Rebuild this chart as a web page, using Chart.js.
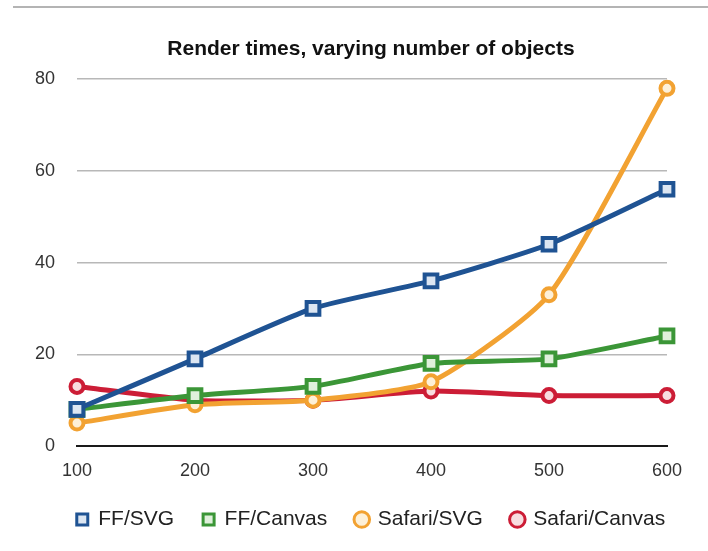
<!DOCTYPE html>
<html>
<head>
<meta charset="utf-8">
<script src="https://cdn.jsdelivr.net/npm/chart.js@4"></script>
<style>
  body { margin: 0; background: #fff; }
  #wrap { position: relative; width: 708px; height: 551px; }
  #rule { position: absolute; left: 13px; right: 0; top: 6px; height: 2px; background: #b4b4b4; }
</style>
</head>
<body>
<div id="wrap">
  <div id="rule"></div>
  <canvas id="myChart" width="708" height="551"></canvas>
</div>
<script>
var objectCounts = ['100', '200', '300', '400', '500', '600'];
var yTicks = [0, 20, 40, 60, 80];

var ffSvg = [8, 19, 30, 36, 44, 56];
var ffCanvas = [8, 11, 13, 18, 19, 24];
var safariSvg = [5, 9, 10, 14, 33, 78];
var safariCanvas = [13, 10, 10, 12, 11, 11];

var seriesNames = ['FF/SVG', 'FF/Canvas', 'Safari/SVG', 'Safari/Canvas'];
var lineColors = ['#1f5393', '#3b9637', '#f2a232', '#cc1d36'];
var fillColors = ['#dce6f2', '#e0f0dc', '#fdf0d8', '#f8dde0'];

function makeSet(i, values, shape) {
    var isRect = shape === 'rect';
    return {
        label: seriesNames[i],
        data: values,
        borderColor: lineColors[i],
        backgroundColor: fillColors[i],
        borderWidth: 5,
        tension: 0.2,
        pointStyle: shape,
        pointRadius: isRect ? 9 : 6.5,
        pointBorderWidth: 4,
        pointBackgroundColor: fillColors[i],
        pointBorderColor: lineColors[i]
    };
}

var ctx = document.getElementById('myChart');

var data = {
    labels: objectCounts,
    datasets: [
        makeSet(0, ffSvg, 'rect'),
        makeSet(1, ffCanvas, 'rect'),
        makeSet(2, safariSvg, 'circle'),
        makeSet(3, safariCanvas, 'circle')
    ]
};

var options = {
    responsive: false,
    animation: false,
    layout: { padding: { left: 34, right: 0, top: 20, bottom: 11 } },
    plugins: {
        title: {
            display: true,
            text: 'Render times, varying number of objects',
            color: '#111',
            font: { family: 'Liberation Sans', size: 21, weight: 'bold' },
            padding: { top: 17, bottom: 17 }
        },
        legend: {
            position: 'bottom',
            labels: {
                usePointStyle: true,
                boxWidth: 11,
                boxHeight: 11,
                padding: 29,
                color: '#222',
                font: { family: 'Liberation Sans', size: 21 },
                generateLabels: function (chart) {
                    var items = Chart.defaults.plugins.legend.labels.generateLabels(chart);
                    items.forEach(function (item) { item.lineWidth = 3; });
                    return items;
                }
            }
        },
        tooltip: { enabled: false }
    },
    scales: {
        x: {
            offset: false,
            grid: { display: false, drawTicks: false },
            border: { display: true, color: '#1a1a1a', width: 2 },
            ticks: {
                color: '#333',
                padding: 14,
                maxRotation: 0,
                font: { family: 'Liberation Sans', size: 18 }
            },
            afterFit: function (scale) { scale.height = 34; }
        },
        y: {
            min: 0,
            max: 80,
            afterBuildTicks: function (scale) {
                scale.ticks = yTicks.map(function (v) { return { value: v }; });
            },
            grid: {
                drawTicks: false,
                color: function (c) { return c.tick.value === 0 ? '#1a1a1a' : '#b8b8b8'; },
                lineWidth: function (c) { return c.tick.value === 0 ? 2 : 1.5; }
            },
            border: { display: false },
            ticks: {
                color: '#333',
                padding: 22,
                font: { family: 'Liberation Sans', size: 18 }
            },
            afterFit: function (scale) { scale.width = 43; }
        },
        // empty axis that only reserves room on the right
        yRight: {
            position: 'right',
            display: true,
            grid: { display: false },
            border: { display: false },
            ticks: { display: false },
            afterFit: function (scale) { scale.width = 41; }
        }
    }
};

var myLineChart = new Chart(ctx, {
    type: 'line',
    data: data,
    options: options
});
</script>
</body>
</html>
